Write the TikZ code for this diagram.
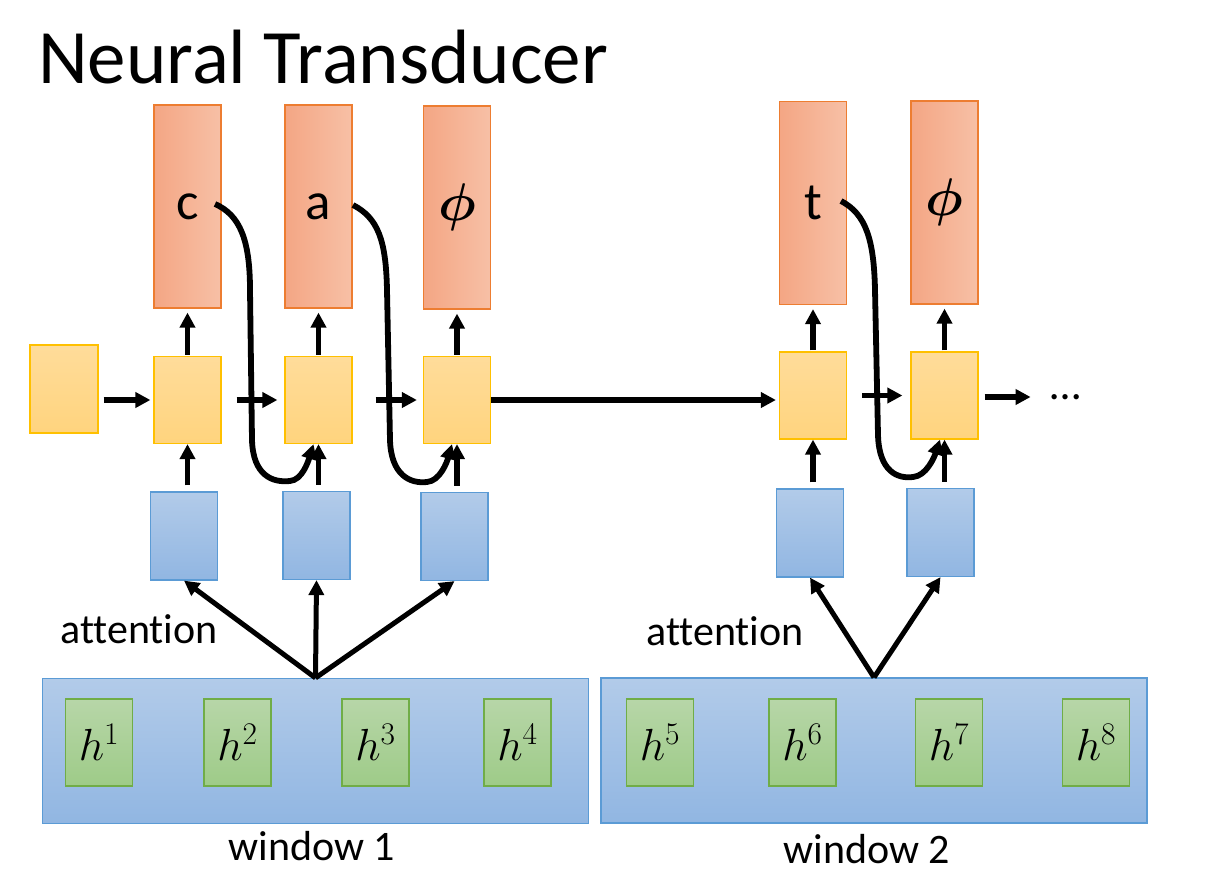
\RequirePackage{fix-cm}
\documentclass[tikz,border=0pt]{standalone}
\usepackage{amsmath}
\usepackage[no-math]{fontspec}
\setmainfont[Ligatures=NoCommon]{Carlito}
\usepackage{tikz}
\usetikzlibrary{arrows.meta}

\definecolor{redL}{HTML}{F4A684}
\definecolor{redR}{HTML}{F7C0A6}
\definecolor{redB}{HTML}{ED7D31}
\definecolor{yelT}{HTML}{FFDC9A}
\definecolor{yelD}{HTML}{FFD47E}
\definecolor{yelB}{HTML}{FFC000}
\definecolor{bluT}{HTML}{B2CBE9}
\definecolor{bluD}{HTML}{91B6E2}
\definecolor{bluB}{HTML}{5B9BD5}
\definecolor{grnT}{HTML}{B7D6A8}
\definecolor{grnD}{HTML}{9ECB88}
\definecolor{grnB}{HTML}{70AD47}

\tikzset{
  outbox/.style={draw=redB, line width=1.2pt, left color=redL, right color=redR,
    inner sep=0pt, minimum width=67pt, minimum height=203pt, font=\fontsize{53}{60}\selectfont},
  statebox/.style={draw=yelB, line width=1.2pt, top color=yelT, bottom color=yelD,
    inner sep=0pt, minimum width=67pt, minimum height=87pt},
  ctxbox/.style={draw=bluB, line width=1.2pt, top color=bluT, bottom color=bluD,
    inner sep=0pt, minimum width=67pt, minimum height=88pt},
  winbox/.style={draw=bluB, line width=1.2pt, top color=bluT, bottom color=bluD,
    inner sep=0pt, minimum width=546pt, minimum height=145pt},
  hbox/.style={draw=grnB, line width=1.2pt, top color=grnT, bottom color=grnD,
    inner sep=0pt, minimum width=67pt, minimum height=87pt, font=\fontsize{45}{50}\selectfont},
  arr/.style={line width=5.8pt, -{Triangle[length=15pt,width=15pt]}},
  lbl/.style={font=\fontsize{42}{50}\selectfont, inner sep=0pt, anchor=base}
}

\begin{document}
\begin{tikzpicture}[x=1pt,y=-1pt]
	\useasboundingbox (0,0) rectangle (1220,883);
	\node[anchor=base west, inner sep=0pt, font=\fontsize{77}{90}\selectfont] (title) at (38,83) {Neural Transducer};
	% outputs
	\node[outbox] (r1) at (187.5,206.5) {c};
	\node[outbox] (r2) at (318.5,206.5) {a};
	\node[outbox] (r3) at (457,207.5) {$\boldsymbol{\phi}$};
	\node[outbox] (r4) at (813,203) {t};
	\node[outbox] (r5) at (944.5,202.5) {$\boldsymbol{\phi}$};
	% states
	\node[statebox, minimum width=68pt, minimum height=88pt] (s0) at (64,389) {};
	\node[statebox] (s1) at (187.5,400) {};
	\node[statebox] (s2) at (318.5,400) {};
	\node[statebox] (s3) at (457,400) {};
	\node[statebox] (s4) at (813,395.5) {};
	\node[statebox] (s5) at (944.5,395.5) {};
	% contexts
	\node[ctxbox] (b1) at (184,536) {};
	\node[ctxbox] (b2) at (316.5,535.5) {};
	\node[ctxbox] (b3) at (454.5,536.5) {};
	\node[ctxbox] (b4) at (810,533) {};
	\node[ctxbox] (b5) at (940.5,532.5) {};
	% windows
	\node[winbox] (w1) at (315.5,751) {};
	\node[winbox] (w2) at (874,750.5) {};
	\foreach \x/\n in {99/1,237.5/2,375.5/3,517.5/4,660/5,802.5/6,949/7,1096/8}
		\node[hbox] (h\n) at (\x,742.5) {$h^{\n}$};
	% labels
	\node[lbl] (att1) at (139,643) {attention};
	\node[lbl] (att2) at (725,645) {attention};
	\node[lbl] (win1) at (312,860) {window 1};
	\node[lbl] (win2) at (867,863) {window 2};
	\node[inner sep=0pt, font=\fontsize{44}{50}\selectfont] (dots) at (1066,397) {…};
	% arrows
	\foreach \i in {1,...,5} {
		\draw[arr, shorten <=6pt] (s\i.south |- b\i.north) -- (s\i.south);
		\draw[arr, shorten <=1pt, shorten >=4pt] (s\i.north) -- (r\i.south);
	}
	\draw[arr, shorten <=5pt, shorten >=3pt] (s0.east |- s1) -- (s1.west);
	\draw[arr, shorten <=15pt, shorten >=7pt] (s1) -- (s2);
	\draw[arr, shorten <=23pt, shorten >=6pt] (s2) -- (s3);
	\draw[arr, shorten >=3pt] (s3.east) -- (s3 -| s4.west);
	\draw[arr, shorten <=15pt, shorten >=8pt] (s4) -- (s5);
	\draw[arr, shorten <=6pt, shorten >=20pt] (s5.east |- dots) -- (dots);
	\foreach \i in {1,2,3}
		\draw[arr, line width=5pt] (w1.north) -- (b\i.south);
	\foreach \i in {4,5}
		\draw[arr, line width=5pt] (w2.north) -- (b\i.south);
	% emitted labels fed back
	\coordinate (c1) at (215,204);
	\coordinate (c2) at (353,205);
	\coordinate (c4) at (841,201);
	\draw[arr] (c1) .. controls (240,215) and (250,240) .. (250,290) -- (252,440)
		.. controls (253,475) and (272,483) .. (290,481) .. controls (302,480) and (308,462) .. ([xshift=-5pt]s2.south);
	\draw[arr] (c2) .. controls (378,218) and (386,240) .. (387,290) -- (390,440)
		.. controls (391,475) and (410,484) .. (427,482) .. controls (440,481) and (447,462) .. ([xshift=-5pt]s3.south);
	\draw[arr] (c4) .. controls (866,214) and (874,240) .. (875,290) -- (878,435)
		.. controls (879,472) and (898,479) .. (913,477) .. controls (926,476) and (934,458) .. ([xshift=-4.5pt]s5.south);
\end{tikzpicture}
\end{document}
